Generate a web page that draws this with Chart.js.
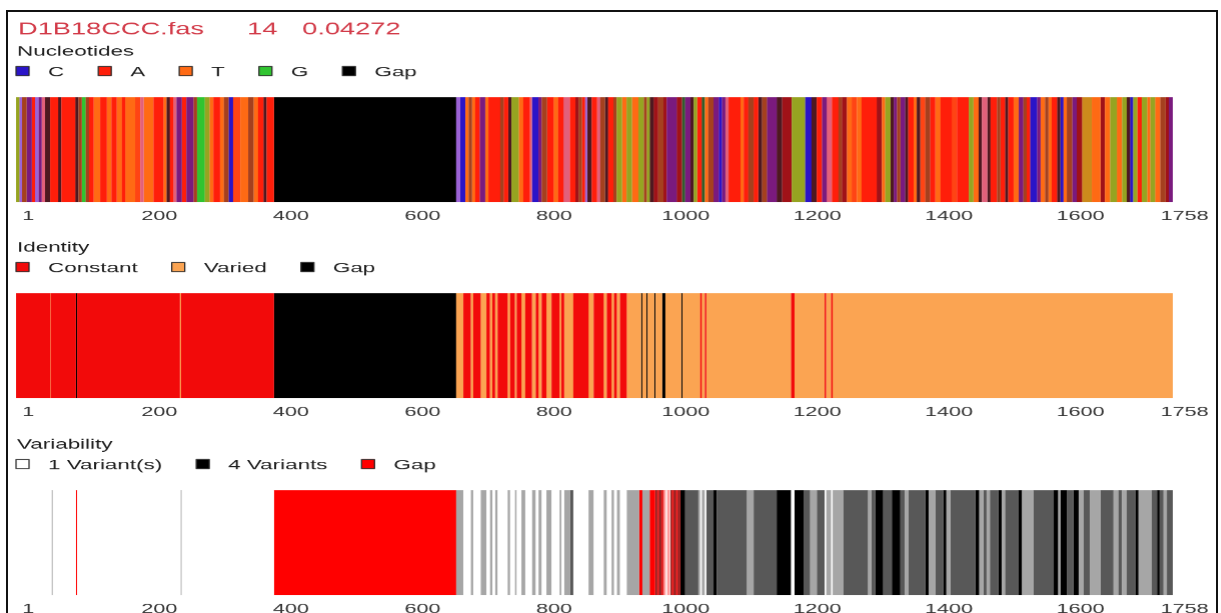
<!DOCTYPE html>
<html>
<head>
<meta charset="utf-8">
<title>D1B18CCC.fas</title>
<script src="https://cdn.jsdelivr.net/npm/chart.js@4.4.1/dist/chart.umd.min.js"></script>
<style>
  html, body { margin: 0; padding: 0; background: #fff; }
  #page { position: relative; width: 1221px; height: 613px; overflow: hidden; background: #fff; }
  #frame { position: absolute; left: 6px; top: 10px; width: 1212px; height: 700px;
           border: 2px solid #111; box-sizing: border-box; }
  /* each track is laid out narrow and stretched sideways, giving the wide lettering of the viewer */
  .track { position: absolute; left: 0; transform-origin: 0 0; transform: scaleX(1.6); }
</style>
</head>
<body>
<div id="page">
  <div id="frame"></div>
  <canvas id="nucleotides" class="track" width="763" height="232" style="top:0px"></canvas>
  <canvas id="identity" class="track" width="763" height="232" style="top:196px"></canvas>
  <canvas id="variability" class="track" width="763" height="232" style="top:393px"></canvas>
</div>
<script>
// ---- alignment summary ----
const fileName = 'D1B18CCC.fas';
const sequenceCount = 14;
const nucleotideDiversity = 0.04272;
const positionCount = 1758;
const tickValues = [1, 200, 400, 600, 800, 1000, 1200, 1400, 1600, 1758];

// ---- site runs: [first position, state]; a run lasts until the next run starts.
// A multi-letter state is a stretch of columns holding several bases at once.
const nucleotideKeys = ['C', 'A', 'T', 'G', '-'];
const nucleotideNames = ['C', 'A', 'T', 'G', 'Gap'];
const nucleotideRuns = [
  [1,'TG'],[6,'CT'],[10,'AG'],[17,'CA'],[25,'A'],[30,'CT'],[35,'CA'],[40,'ACT'],[45,'ACG'],[53,'A'],
  [65,'ACG'],[70,'A'],[91,'ACG'],[96,'AG'],[101,'G'],[107,'AG'],[112,'A'],[119,'T'],[129,'A'],[139,'T'],
  [146,'A'],[154,'T'],[162,'A'],[167,'T'],[182,'AT'],[190,'ACT'],[195,'T'],[210,'A'],[225,'T'],[230,'ACG'],
  [235,'A'],[240,'ACT'],[245,'CA'],[253,'A'],[260,'CA'],[271,'AG'],[276,'G'],[288,'TG'],[295,'T'],[301,'A'],
  [311,'T'],[317,'AG'],[324,'C'],[331,'AT'],[342,'T'],[354,'AG'],[362,'T'],[369,'A'],[377,'ACG'],[382,'A'],
  [393,'-'],
  [670,'CT'],[676,'C'],[684,'T'],[689,'AG'],[694,'T'],[699,'A'],[706,'CA'],[714,'T'],[719,'A'],[737,'AG'],
  [742,'A'],[749,'ACG'],[754,'TG'],[765,'T'],[772,'A'],[782,'ACT'],[785,'C'],[795,'CA'],[800,'AG'],[808,'A'],
  [818,'T'],[825,'A'],[833,'ACT'],[843,'A'],[851,'AGT'],[856,'AG'],[861,'A'],[866,'CT'],[869,'ACG'],[876,'A'],
  [884,'ACT'],[889,'AG'],[896,'ACG'],[901,'A'],[909,'AG'],[914,'TG'],[922,'T'],[929,'TG'],[937,'T'],[947,'TG'],
  [955,'AG'],[960,'TG'],[964,'ACG'],[970,'AGT'],[977,'AG'],[985,'AGT'],[990,'CA'],[1005,'AGT'],[1013,'CG'],[1018,'CA'],
  [1026,'ACG'],[1031,'TG'],[1036,'A'],[1043,'CG'],[1048,'T'],[1053,'AG'],[1061,'CA'],[1069,'C'],[1074,'CA'],[1079,'ACT'],
  [1084,'A'],[1102,'T'],[1107,'A'],[1114,'AG'],[1122,'A'],[1129,'ACG'],[1135,'AG'],[1142,'CA'],[1157,'ACG'],[1165,'AGT'],
  [1180,'TG'],[1200,'C'],[1210,'ACG'],[1218,'A'],[1226,'CA'],[1233,'ACT'],[1241,'A'],[1251,'AG'],[1256,'AGT'],[1264,'T'],
  [1271,'AT'],[1279,'T'],[1286,'A'],[1309,'AGT'],[1317,'T'],[1322,'TG'],[1330,'ACG'],[1335,'CA'],[1340,'AG'],[1345,'CA'],
  [1352,'ACG'],[1357,'A'],[1365,'T'],[1370,'ACG'],[1375,'AT'],[1383,'AG'],[1390,'A'],[1398,'T'],[1406,'A'],[1423,'AT'],
  [1431,'A'],[1449,'TG'],[1456,'T'],[1464,'ACG'],[1469,'ACT'],[1477,'ACG'],[1482,'A'],[1492,'AG'],[1497,'A'],[1504,'ACG'],
  [1509,'A'],[1517,'T'],[1525,'CA'],[1532,'AG'],[1537,'A'],[1542,'C'],[1553,'CA'],[1558,'T'],[1565,'AG'],[1570,'T'],
  [1575,'A'],[1583,'ACG'],[1588,'C'],[1593,'T'],[1598,'AG'],[1606,'CA'],[1613,'AGT'],[1621,'GT'],[1636,'T'],[1649,'AGT'],
  [1656,'T'],[1664,'TG'],[1674,'T'],[1682,'TG'],[1689,'ACG'],[1694,'C'],[1699,'TG'],[1705,'A'],[1712,'TG'],[1720,'T'],
  [1725,'TG'],[1732,'T'],[1740,'AG'],[1748,'AGT'],[1753,'CA']
];

const identityKeys = ['C', 'V', '-'];
const identityNames = ['Constant', 'Varied', 'Gap'];
const identityRuns = [
  [1,'C'],[53,'V'],[54,'C'],[92,'-'],[94,'C'],[250,'V'],[252,'C'],[393,'-'],
  [670,'V'],[681,'C'],[692,'V'],[696,'C'],[707,'V'],[716,'C'],[721,'V'],[725,'C'],[729,'V'],[733,'C'],
  [748,'V'],[752,'C'],[759,'V'],[762,'C'],[769,'V'],[775,'C'],[785,'V'],[791,'C'],[795,'V'],[800,'C'],
  [807,'V'],[815,'C'],[827,'V'],[830,'C'],[834,'V'],[848,'C'],[871,'V'],[879,'C'],[894,'V'],[899,'C'],
  [906,'V'],[910,'C'],[914,'V'],[919,'C'],[929,'V'],[951,'-'],[953,'V'],[959,'-'],[961,'V'],[971,'-'],
  [973,'V'],[983,'-'],[988,'V'],[1012,'-'],[1014,'V'],[1041,'C'],[1043,'V'],[1048,'C'],[1050,'V'],
  [1179,'C'],[1184,'V'],[1230,'C'],[1232,'V'],[1240,'C'],[1242,'V']
];

const variabilityKeys = ['1', '2', '3', '4', '-'];
const variabilityNames = ['1 Variant(s)', '2 Variants', '3 Variants', '4 Variants', 'Gap'];
const variabilityLegendKeys = ['1', '4', '-'];
const variabilityRuns = [
  [1,'1'],[55,'2'],[57,'1'],[92,'-'],[94,'1'],[251,'2'],[253,'1'],[393,'-'],
  [670,'2'],[681,'1'],[692,'2'],[696,'1'],[707,'2'],[716,'1'],[721,'2'],[725,'1'],[729,'2'],[733,'1'],
  [748,'2'],[752,'1'],[759,'2'],[762,'1'],[769,'2'],[775,'1'],[785,'2'],[791,'1'],[795,'2'],[800,'1'],
  [807,'2'],[815,'1'],[827,'2'],[830,'1'],[834,'2'],[843,'3'],[848,'1'],[871,'2'],[879,'1'],[894,'2'],
  [899,'1'],[906,'2'],[910,'1'],[914,'2'],[919,'1'],[929,'2'],[948,'-'],[953,'2'],[964,'-'],[972,'-4'],
  [985,'-1'],[995,'-4'],[1010,'4'],[1018,'3'],[1038,'2'],[1041,'1'],[1043,'2'],[1048,'1'],[1050,'3'],[1061,'4'],
  [1066,'3'],[1112,'2'],[1122,'3'],[1157,'4'],[1179,'1'],[1184,'4'],[1198,'3'],[1208,'2'],[1218,'3'],[1230,'1'],
  [1232,'2'],[1240,'1'],[1242,'2'],[1258,'3'],[1296,'2'],[1301,'3'],[1307,'4'],[1319,'3'],[1332,'4'],[1345,'3'],
  [1352,'2'],[1357,'3'],[1383,'4'],[1388,'2'],[1398,'3'],[1410,'4'],[1415,'2'],[1421,'3'],[1459,'4'],[1465,'2'],
  [1471,'3'],[1476,'2'],[1481,'3'],[1494,'4'],[1499,'2'],[1504,'3'],[1524,'4'],[1530,'2'],[1547,'3'],[1578,'4'],
  [1585,'2'],[1588,'4'],[1598,'3'],[1608,'4'],[1616,'2'],[1623,'3'],[1633,'2'],[1649,'3'],[1669,'2'],[1676,'3'],
  [1682,'2'],[1689,'3'],[1702,'4'],[1707,'2'],[1727,'3'],[1735,'4'],[1739,'3'],[1745,'2'],[1750,'3']
];

// ---- styling ----
const STRETCH = 1.6;               // horizontal stretch applied to every track canvas
const u = v => v / STRETCH;        // screen pixels -> canvas units along x
const FONT = '"Liberation Sans", Arial, Helvetica, sans-serif';

// single bases, then the shades used for columns holding several bases
const nucleotideColors = {
  C: '#2a14c8', A: '#ff1e0a', T: '#ff6a14', G: '#30c430', '-': '#000000',
  CA: '#7a1a7e', AG: '#a5401e', TG: '#96a421', CT: '#9c62d6', ACT: '#e2607a',
  ACG: '#4e1820', AGT: '#a01218', CG: '#2f5e2c', AT: '#ff4414', GT: '#cc8a1c'
};
const identityColors = { C: '#f20a0a', V: '#fba452', '-': '#000000' };
const variabilityColors = { '1': '#ffffff', '2': '#a6a6a6', '3': '#585858', '4': '#000000', '-': '#ff0000' };

// Turn runs into bars; a state written with '-' and a digit alternates site by site.
function expandRuns(runs, lastPosition, alternate) {
  const bars = [];
  runs.forEach(([start, state], i) => {
    const end = i + 1 < runs.length ? runs[i + 1][0] - 1 : lastPosition;
    if (!alternate || state.length === 1) {
      bars.push({ from: start, to: end, key: state });
    } else {
      for (let p = start; p <= end; p++) {
        bars.push({ from: p, to: p, key: state[(p - start) % state.length] });
      }
    }
  });
  return bars;
}

// Header text and legend drawn above each strip.
const trackHeader = {
  id: 'trackHeader',
  afterDraw(chart, args, opts) {
    const ctx = chart.ctx;
    ctx.save();
    ctx.textBaseline = 'alphabetic';
    ctx.textAlign = 'left';
    if (opts.title) {
      ctx.font = '17px ' + FONT;
      ctx.fillStyle = '#d23a48';
      opts.title.forEach(part => ctx.fillText(part.text, part.x, 34.3));
    }
    ctx.font = '14px ' + FONT;
    ctx.fillStyle = '#1e1e1e';
    ctx.fillText(opts.heading, u(17), 55.5);

    let x = u(16);
    const boxW = u(13), boxTop = 66, boxH = 10;
    opts.items.forEach(item => {
      ctx.fillStyle = item.color;
      ctx.fillRect(x, boxTop, boxW, boxH);
      ctx.lineWidth = 0.8;
      ctx.strokeStyle = '#2a2a2a';
      ctx.strokeRect(x, boxTop + 0.5, boxW, boxH - 1);
      ctx.fillStyle = '#1e1e1e';
      const tx = x + u(32);
      ctx.fillText(item.text, tx, 76);
      x = tx + ctx.measureText(item.text).width + u(34);
    });
    ctx.restore();
  }
};

function drawTrack(canvasId, trackName, runs, keys, names, colors, legendKeys, title, alternate) {
  const bars = expandRuns(runs, positionCount, alternate);
  const states = [...new Set(bars.map(b => b.key))];
  const datasets = states.map(state => ({
    label: keys.includes(state) ? names[keys.indexOf(state)] : state.split('').join('/'),
    data: bars.filter(b => b.key === state).map(b => ({ x: [b.from - 0.5, b.to + 0.5], y: trackName })),
    backgroundColor: colors[state],
    borderWidth: 0,
    grouped: false,
    categoryPercentage: 1,
    barPercentage: 1,
    inflateAmount: 0.05
  }));
  const items = legendKeys.map(key => ({ text: names[keys.indexOf(key)], color: colors[key] }));

  return new Chart(document.getElementById(canvasId), {
    type: 'bar',
    data: { labels: [trackName], datasets },
    plugins: [trackHeader],
    options: {
      indexAxis: 'y',
      responsive: false,
      animation: false,
      devicePixelRatio: STRETCH,
      events: [],
      layout: { padding: { top: 97, left: u(16), right: 763 - u(1172), bottom: 1 } },
      scales: {
        y: { type: 'category', display: false },
        x: {
          type: 'linear',
          min: 0.5,
          max: positionCount + 0.5,
          grid: { display: false, drawTicks: false },
          border: { display: false },
          afterBuildTicks: scale => { scale.ticks = tickValues.map(v => ({ value: v })); },
          ticks: {
            autoSkip: false,
            maxRotation: 0,
            labelOffset: u(12),
            padding: 6.4,
            color: '#333333',
            font: { family: FONT, size: 13.5 },
            callback: v => String(v)
          }
        }
      },
      plugins: {
        legend: { display: false },
        tooltip: { enabled: false },
        trackHeader: { heading: trackName, items, title }
      }
    }
  });
}

const titleParts = [
  { text: fileName, x: u(18) },
  { text: String(sequenceCount), x: u(247) },
  { text: String(nucleotideDiversity), x: u(302) }
];

drawTrack('nucleotides', 'Nucleotides', nucleotideRuns, nucleotideKeys, nucleotideNames,
  nucleotideColors, nucleotideKeys, titleParts, false);
drawTrack('identity', 'Identity', identityRuns, identityKeys, identityNames,
  identityColors, identityKeys, null, false);
drawTrack('variability', 'Variability', variabilityRuns, variabilityKeys, variabilityNames,
  variabilityColors, variabilityLegendKeys, null, true);
</script>
</body>
</html>
